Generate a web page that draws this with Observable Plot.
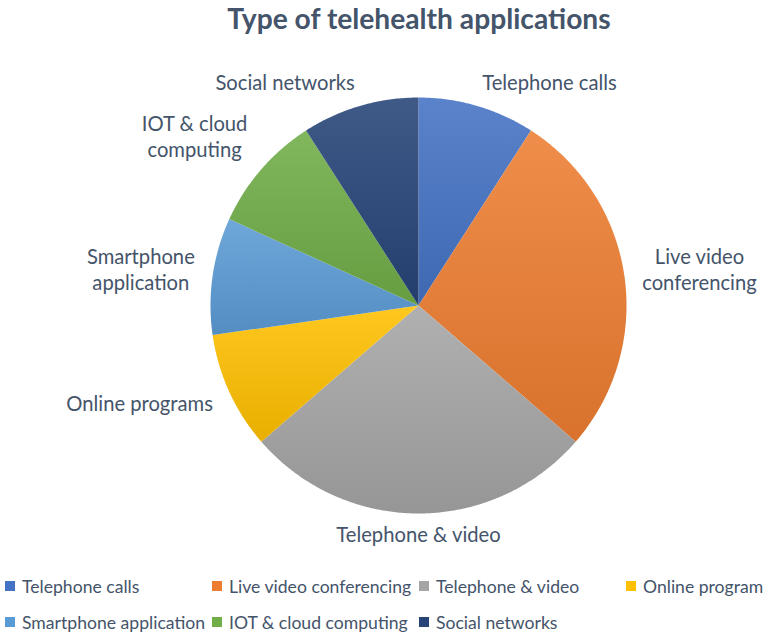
<!DOCTYPE html>
<html>
<head>
<meta charset="utf-8">
<script src="https://cdn.jsdelivr.net/npm/d3@7"></script>
<script src="https://cdn.jsdelivr.net/npm/@observablehq/plot@0.6"></script>
<style>
  html, body { margin: 0; padding: 0; background: #fff; }
  body { width: 774px; height: 639px; overflow: hidden; font-family: Lato, "Open Sans", sans-serif; color: #44546A; }
  #title { height: 48px; line-height: 36px; text-align: center; padding-left: 64px; font-size: 28.2px; font-weight: 700; color: #44546A; box-sizing: border-box; width: 774px; }
  #chart svg { display: block; }
  #legend { display: grid; grid-template-columns: repeat(4, 207px); padding-left: 5px; }
  .item { height: 36px; display: flex; align-items: center; white-space: nowrap; font-size: 17.6px; color: #44546A; }
  .sw { width: 10px; height: 10px; margin-right: 7px; flex: none; }
</style>
</head>
<body>
<div id="title">Type of telehealth applications</div>
<div id="chart"></div>
<div id="legend"></div>
<script>
const categories = ["Telephone calls", "Live video conferencing", "Telephone & video", "Online programs", "Smartphone application", "IOT & cloud computing", "Social networks"];
const values = [1, 3, 3, 1, 1, 1, 1];
const sliceLabels = ["Telephone calls", "Live video\nconferencing", "Telephone & video", "Online programs", "Smartphone\napplication", "IOT & cloud\ncomputing", "Social networks"];
const legendLabels = ["Telephone calls", "Live video conferencing", "Telephone & video", "Online program", "Smartphone application", "IOT & cloud computing", "Social networks"];
const colors = ["#4472C4", "#ED7D31", "#A5A5A5", "#FFC000", "#5B9BD5", "#70AD47", "#264478"];

const W = 774, H = 520, CX = 418, CY = 257, R = 208;
const FS = 20.2, LH = 1.3;
const total = d3.sum(values);

// slice geometry from values
let acc = 0;
const slices = values.map((v, i) => {
  const a0 = acc / total * 2 * Math.PI;
  acc += v;
  const a1 = acc / total * 2 * Math.PI;
  return {i, a0, a1, mid: (a0 + a1) / 2};
});

const polys = slices.map(s => {
  const pts = [{x: 0, y: 0}];
  const n = Math.max(8, Math.ceil((s.a1 - s.a0) / (Math.PI / 360)));
  for (let k = 0; k <= n; k++) {
    const a = s.a0 + (s.a1 - s.a0) * k / n;
    pts.push({x: Math.sin(a), y: Math.cos(a)});
  }
  pts.push({x: 0, y: 0});
  return pts;
});

// label placement (outside end)
const ctx = document.createElement("canvas").getContext("2d");
ctx.font = `${FS}px Lato`;
const clamp = v => Math.max(-1, Math.min(1, v));
const gx = 18;
const labels = slices.map(s => {
  const lines = sliceLabels[s.i].split("\n");
  const w = d3.max(lines, l => ctx.measureText(l).width);
  const h = lines.length * FS * LH;
  const c = Math.cos(s.mid), sn = Math.sin(s.mid);
  const gy = c > 0 ? 12 : 7;
  const fx = clamp(sn * 4), fy = clamp(c * 1.5);
  return {
    text: sliceLabels[s.i],
    x: (R + gx) / R * sn + fx * (w / 2) / R,
    y: (R + gy) / R * c + fy * (h / 2) / R
  };
});

const plot = Plot.plot({
  width: W, height: H, margin: 0,
  x: {domain: [-1, 1], range: [CX - R, CX + R], axis: null},
  y: {domain: [-1, 1], range: [CY + R, CY - R], axis: null},
  style: {fontFamily: "Lato, 'Open Sans', sans-serif", background: "#fff"},
  marks: [
    ...polys.map((p, i) => Plot.line(p, {x: "x", y: "y", fill: `url(#grad${i})`, stroke: "none", curve: "linear"})),
    Plot.text(labels, {x: "x", y: "y", text: "text", textAnchor: "middle", lineAnchor: "middle", lineHeight: LH, fontSize: FS, fill: "#44546A"})
  ]
});

// gradients for slices
const svg = d3.select(plot);
const defs = svg.insert("defs", ":first-child");
colors.forEach((c, i) => {
  const g = defs.append("linearGradient").attr("id", `grad${i}`).attr("x1", 0).attr("y1", 0).attr("x2", 0).attr("y2", 1);
  g.append("stop").attr("offset", "0%").attr("stop-color", d3.interpolateRgb(c, "#fff")(0.12));
  g.append("stop").attr("offset", "100%").attr("stop-color", d3.interpolateRgb(c, "#000")(0.09));
});
document.getElementById("chart").appendChild(plot);

// legend
const legend = d3.select("#legend");
legendLabels.forEach((l, i) => {
  const it = legend.append("div").attr("class", "item");
  it.append("div").attr("class", "sw").style("background", colors[i]);
  it.append("span").text(l);
});
</script>
</body>
</html>
